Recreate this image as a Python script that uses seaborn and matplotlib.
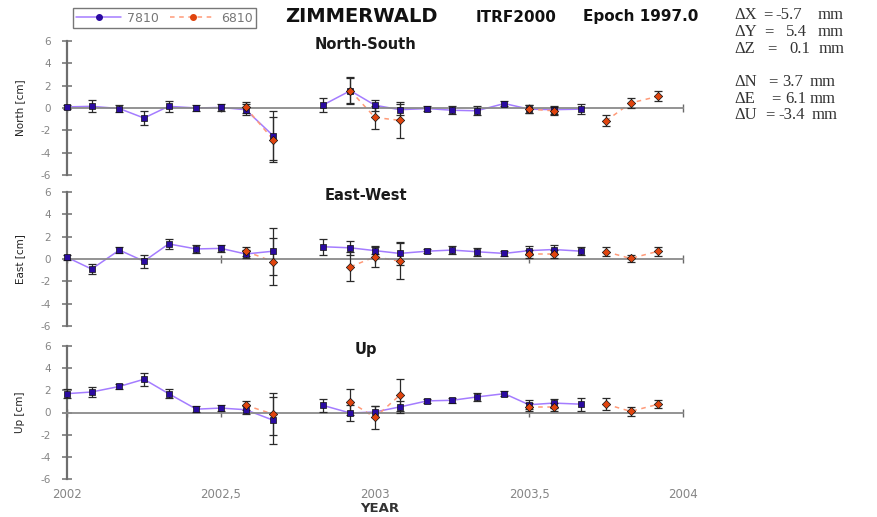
import numpy as np
import pandas as pd
import matplotlib
matplotlib.use("Agg")
import matplotlib.pyplot as plt
from matplotlib.lines import Line2D
import seaborn as sns

nan = np.nan

# ---------------- data ----------------
epochs = [2002.00, 2002.08, 2002.17, 2002.25, 2002.33, 2002.42, 2002.50, 2002.58,
          2002.67, 2002.75, 2002.83, 2002.92, 2003.00, 2003.08, 2003.17, 2003.25,
          2003.33, 2003.42, 2003.50, 2003.58, 2003.67, 2003.75, 2003.83, 2003.92]

ns_7810 = [0.1, 0.15, -0.05, -0.9, 0.15, 0.0, 0.05, -0.15, -2.5, nan, 0.25, 1.55,
           0.25, -0.15, -0.05, -0.2, -0.25, 0.4, -0.1, -0.15, -0.1, nan, nan, nan]
ns_7810_err = [0.2, 0.55, 0.3, 0.6, 0.5, 0.3, 0.3, 0.5, 2.2, nan, 0.65, 1.1,
               0.5, 0.5, 0.2, 0.35, 0.4, 0.2, 0.35, 0.35, 0.45, nan, nan, nan]
ns_6810 = [nan, nan, nan, nan, nan, nan, nan, 0.05, -2.85, nan, nan, 1.55,
           -0.85, -1.1, nan, nan, nan, nan, -0.1, -0.25, nan, -1.15, 0.45, 1.05]
ns_6810_err = [nan, nan, nan, nan, nan, nan, nan, 0.5, 2.0, nan, nan, 1.2,
               1.0, 1.6, nan, nan, nan, nan, 0.35, 0.35, nan, 0.5, 0.45, 0.45]

ew_7810 = [0.15, -0.9, 0.8, -0.2, 1.35, 0.9, 0.95, 0.45, 0.7, nan, 1.1, 1.0,
           0.75, 0.5, 0.7, 0.8, 0.65, 0.5, 0.75, 0.85, 0.7, nan, nan, nan]
ew_7810_err = [0.2, 0.45, 0.3, 0.6, 0.45, 0.35, 0.3, 0.4, 2.1, nan, 0.7, 0.65,
               0.3, 1.0, 0.2, 0.35, 0.35, 0.2, 0.4, 0.4, 0.35, nan, nan, nan]
ew_6810 = [nan, nan, nan, nan, nan, nan, nan, 0.7, -0.25, nan, nan, -0.7,
           0.2, -0.2, nan, nan, nan, nan, 0.45, 0.45, nan, 0.65, 0.05, 0.7]
ew_6810_err = [nan, nan, nan, nan, nan, nan, nan, 0.4, 2.1, nan, nan, 1.3,
               0.95, 1.6, nan, nan, nan, nan, 0.4, 0.4, nan, 0.4, 0.35, 0.4]

up_7810 = [1.7, 1.85, 2.35, 3.0, 1.7, 0.3, 0.4, 0.25, -0.7, nan, 0.65, -0.05,
           0.05, 0.5, 1.05, 1.1, 1.4, 1.7, 0.7, 0.85, 0.75, nan, nan, nan]
up_7810_err = [0.4, 0.45, 0.2, 0.6, 0.4, 0.25, 0.3, 0.35, 2.1, nan, 0.6, 0.7,
               0.5, 0.5, 0.2, 0.2, 0.35, 0.2, 0.4, 0.4, 0.6, nan, nan, nan]
up_6810 = [nan, nan, nan, nan, nan, nan, nan, 0.65, -0.15, nan, nan, 0.95,
           -0.45, 1.55, nan, nan, nan, nan, 0.5, 0.5, nan, 0.75, 0.1, 0.75]
up_6810_err = [nan, nan, nan, nan, nan, nan, nan, 0.4, 1.9, nan, nan, 1.15,
               1.0, 1.45, nan, nan, nan, nan, 0.4, 0.4, nan, 0.55, 0.4, 0.35]

panel_titles = ["North-South", "East-West", "Up"]
panel_ylabels = ["North [cm]", "East [cm]", "Up [cm]"]
yticks = [-6, -4, -2, 0, 2, 4, 6]
xticks = [2002.0, 2002.5, 2003.0, 2003.5, 2004.0]
xticklabels = ["2002", "2002,5", "2003", "2003,5", "2004"]
series_names = ["7810", "6810"]
info_names = ["\u0394X", "\u0394Y", "\u0394Z", "\u0394N", "\u0394E", "\u0394U"]
info_values = ["-5.7", "5.4", "0.1", "3.7", "6.1", "-3.4"]
info_unit = "mm"

# ---------------- style ----------------
sns.set_theme(style="white")
plt.rcParams['font.family'] = ['DejaVu Sans']

BLUE_LINE = "#a47cff"
BLUE_MK = "#2a0aa0"
RED_LINE = "#ff9a78"
RED_MK = "#e0440e"
AX_COL = "#6e6e6e"
LBL_COL = "#858585"

fig = plt.figure(figsize=(8.78, 5.17), dpi=100)
W, H = 878.0, 517.0
panel_px = [(41, 175), (192, 326), (346, 479)]
x_left, x_right = 67, 683

panels = [
    (ns_7810, ns_7810_err, ns_6810, ns_6810_err),
    (ew_7810, ew_7810_err, ew_6810, ew_6810_err),
    (up_7810, up_7810_err, up_6810, up_6810_err),
]


def draw_series(ax, vals, errs, line_col, mk_col, ls, marker, msize):
    df = pd.DataFrame({"t": epochs, "v": vals, "e": errs})
    df["seg"] = df["v"].isna().cumsum()
    d = df.dropna(subset=["v"]).reset_index(drop=True)
    sns.lineplot(data=d, x="t", y="v", units="seg", estimator=None, sort=False,
                 color=line_col, linestyle=ls, linewidth=1.1, ax=ax,
                 legend=False, zorder=2, clip_on=False)
    ax.errorbar(d["t"], d["v"], yerr=d["e"], fmt="none", ecolor="#2a2a2a",
                elinewidth=0.9, capsize=3, capthick=0.9, zorder=3, clip_on=False)
    sns.scatterplot(data=d, x="t", y="v", marker=marker, s=msize, color=mk_col,
                    edgecolor="#111111", linewidth=0.5, ax=ax, zorder=4,
                    clip_on=False, legend=False)


for k, ((top, bot), (v1, e1, v2, e2)) in enumerate(zip(panel_px, panels)):
    ax = fig.add_axes([x_left / W, 1 - bot / H, (x_right - x_left) / W, (bot - top) / H])
    draw_series(ax, v1, e1, BLUE_LINE, BLUE_MK, "-", "s", 24)
    draw_series(ax, v2, e2, RED_LINE, RED_MK, (0, (3, 3)), "D", 18)
    ax.set_xlim(2002, 2004)
    ax.set_ylim(-6, 6)
    ax.set_yticks(yticks)
    ax.set_yticklabels([str(t) for t in yticks])
    ax.set_xticks(xticks)
    ax.set_xlabel("")
    ax.set_ylabel("")
    ax.spines["top"].set_visible(False)
    ax.spines["right"].set_visible(False)
    ax.spines["left"].set_color(AX_COL)
    ax.spines["left"].set_linewidth(1.6)
    ax.spines["bottom"].set_position(("data", 0))
    ax.spines["bottom"].set_color("#8a8a8a")
    ax.spines["bottom"].set_linewidth(1.3)
    ax.tick_params(axis="y", left=True, direction="inout", length=7, width=1.1,
                   color=AX_COL, labelsize=7.5, labelcolor=LBL_COL, pad=8)
    ax.tick_params(axis="x", bottom=True, direction="inout", length=6, width=1.0,
                   color="#6a6a6a", labelbottom=False)
    ax.patch.set_alpha(0)
    ax.text(0.485, 0.975, panel_titles[k], transform=ax.transAxes, ha="center",
            va="center", fontsize=10.5, fontweight="bold", color="#1a1a1a")
    fig.text(20 / W, 1 - (top + bot) / 2 / H, panel_ylabels[k], rotation=90,
             ha="center", va="center", fontsize=7.5, color="#222222")
    if k == 2:
        for xt, xl in zip(xticks, xticklabels):
            ax.text(xt, -0.115, xl, transform=ax.get_xaxis_transform(),
                    ha="center", va="center", fontsize=8.5, color=LBL_COL)
        ax.text(0.507, -0.225, "YEAR", transform=ax.transAxes, ha="center",
                va="center", fontsize=9.5, fontweight="bold", color="#333333")

# legend
handles = [
    Line2D([], [], color=BLUE_LINE, lw=1.1, marker="o", markersize=4,
           markerfacecolor=BLUE_MK, markeredgecolor=BLUE_MK),
    Line2D([], [], color=RED_LINE, lw=1.1, linestyle=(0, (3, 3)), marker="o",
           markersize=4, markerfacecolor=RED_MK, markeredgecolor=RED_MK),
]
leg = fig.legend(handles, series_names, loc="center", bbox_to_anchor=(164.5 / W, 1 - 18 / H),
                 ncol=2, fontsize=9, frameon=True, fancybox=False, handlelength=3.6,
                 columnspacing=0.9, handletextpad=0.45, borderpad=0.25, borderaxespad=0)
leg.get_frame().set_edgecolor("#555555")
leg.get_frame().set_linewidth(1.0)
for t in leg.get_texts():
    t.set_color("#777777")

# title texts
fig.text(361 / W, 1 - 17 / H, "ZIMMERWALD", ha="center", va="center",
         fontsize=14, fontweight="bold", color="#111111")
fig.text(516 / W, 1 - 17 / H, "ITRF2000", ha="center", va="center",
         fontsize=11, fontweight="bold", color="#111111")
fig.text(641 / W, 1 - 17 / H, "Epoch 1997.0", ha="center", va="center",
         fontsize=11, fontweight="bold", color="#111111")

# info block (serif), pieces placed to follow the reference spacing
info_y = [15, 32, 49, 82, 99, 115]
eq_x = [763, 764, 767, 768, 771, 765]
val_x = [775, 786, 789, 782, 785, 778]
unit_x = [818, 818, 819, 810, 810, 812]
serif = ["Liberation Serif", "DejaVu Serif"]
for name, val, yy, ex, vx, ux in zip(info_names, info_values, info_y, eq_x, val_x, unit_x):
    for xx, txt in ((734, name), (ex, "="), (vx, val), (ux, info_unit)):
        fig.text(xx / W, 1 - yy / H, txt, ha="left", va="center", fontsize=12,
                 family=serif, color="#333333")

fig.savefig("out.png", dpi=100)
